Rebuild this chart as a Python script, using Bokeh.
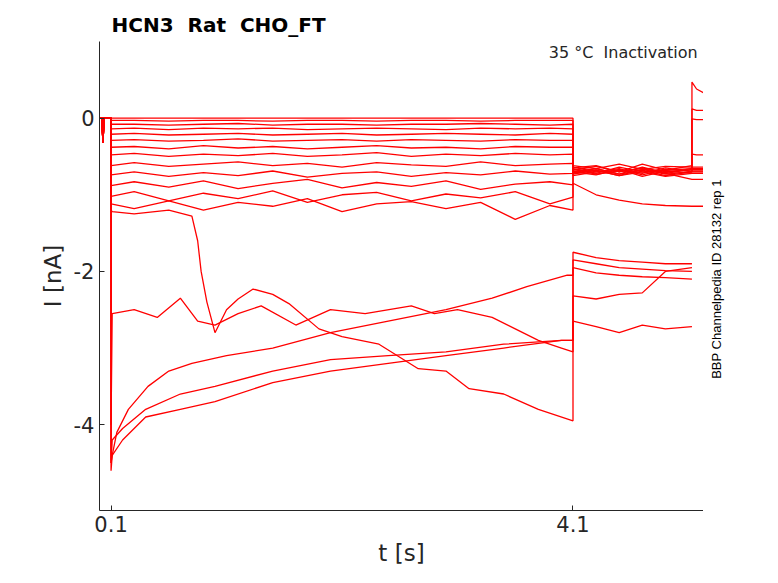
import numpy as np
from bokeh.plotting import figure
from bokeh.models import Label, Range1d
from bokeh.layouts import row
from bokeh.embed import file_html
from bokeh.resources import INLINE

# shared time knots (s)
t_pre = [0.0, 0.02, 0.03, 0.04, 0.1]
t_pulse = [0.1, 0.3, 0.6, 0.9, 1.2, 1.5, 1.8, 2.1, 2.4, 2.7, 3.0, 3.3, 3.6, 3.9, 4.1]
t_post = [4.1, 4.3, 4.5, 4.7, 4.9, 5.13]
t_end = [5.13, 5.17, 5.23]

# small traces: pulse level, post-pulse, end
small_pulse = [
    [0, 0, 0, 0, 0, 0, 0, 0, 0, 0, 0, 0, 0, 0, 0],
    [-0.03, -0.03, -0.04, -0.03, -0.03, -0.04, -0.03, -0.03, -0.04, -0.03, -0.03, -0.04, -0.03, -0.03, -0.03],
    [-0.08, -0.08, -0.09, -0.08, -0.07, -0.09, -0.08, -0.08, -0.09, -0.08, -0.08, -0.07, -0.08, -0.09, -0.08],
    [-0.14, -0.13, -0.15, -0.13, -0.14, -0.13, -0.15, -0.14, -0.13, -0.14, -0.15, -0.13, -0.14, -0.13, -0.14],
    [-0.21, -0.20, -0.22, -0.21, -0.20, -0.22, -0.21, -0.20, -0.22, -0.21, -0.20, -0.21, -0.22, -0.20, -0.21],
    [-0.29, -0.28, -0.30, -0.29, -0.27, -0.30, -0.29, -0.28, -0.30, -0.28, -0.29, -0.30, -0.28, -0.29, -0.29],
    [-0.38, -0.37, -0.40, -0.36, -0.39, -0.37, -0.40, -0.38, -0.36, -0.39, -0.38, -0.40, -0.37, -0.38, -0.38],
    [-0.48, -0.46, -0.50, -0.47, -0.49, -0.46, -0.50, -0.48, -0.45, -0.50, -0.47, -0.49, -0.46, -0.48, -0.47],
    [-0.62, -0.58, -0.63, -0.60, -0.57, -0.62, -0.59, -0.64, -0.58, -0.61, -0.63, -0.57, -0.62, -0.60, -0.59],
    [-0.74, -0.70, -0.76, -0.71, -0.75, -0.69, -0.77, -0.72, -0.70, -0.76, -0.71, -0.74, -0.69, -0.73, -0.72],
    [-0.88, -0.83, -0.90, -0.82, -0.92, -0.85, -0.80, -0.91, -0.84, -0.89, -0.82, -0.93, -0.86, -0.83, -0.87],
    [-1.02, -0.96, -1.08, -0.98, -1.05, -0.95, -1.10, -1.00, -0.97, -1.08, -0.99, -1.04, -0.96, -1.12, -1.03],
    [-1.12, -1.18, -1.08, -1.20, -1.10, -1.15, -1.05, -1.22, -1.12, -1.09, -1.18, -1.10, -1.32, -1.14, -1.20],
]
small_post = [
    [-0.65, -0.62, -0.70, -0.60, -0.68, -0.62],
    [-0.70, -0.66, -0.73, -0.64, -0.71, -0.66],
    [-0.72, -0.68, -0.75, -0.67, -0.73, -0.70],
    [-0.75, -0.70, -0.68, -0.72, -0.65, -0.70],
    [-0.62, -0.66, -0.60, -0.67, -0.63, -0.64],
    [-0.66, -0.72, -0.64, -0.70, -0.68, -0.66],
    [-0.70, -0.74, -0.67, -0.76, -0.69, -0.72],
    [-0.68, -0.63, -0.70, -0.65, -0.72, -0.67],
    [-0.64, -0.70, -0.66, -0.74, -0.67, -0.69],
    [-0.71, -0.66, -0.73, -0.68, -0.75, -0.70],
    [-0.67, -0.73, -0.69, -0.66, -0.72, -0.80],
    [-0.85, -1.00, -1.07, -1.12, -1.14, -1.15],
    [-0.73, -0.68, -0.75, -0.70, -0.76, -0.72],
]
small_end = [
    [0.47, 0.38, 0.33],
    [0.12, 0.10, 0.10],
    [-0.01, -0.02, -0.02],
    [-0.47, -0.48, -0.48],
    [-0.64, -0.64, -0.64],
    [-0.66, -0.66, -0.66],
    [-0.72, -0.72, -0.72],
    [-0.67, -0.67, -0.67],
    [-0.69, -0.69, -0.69],
    [-0.70, -0.70, -0.70],
    [-0.80, -0.80, -0.80],
    [-1.15, -1.15, -1.15],
    [-0.72, -0.72, -0.72],
]

# large traces: (t, I) pairs during pulse, then post
big_t = [
    [0.1, 0.11, 0.3, 0.6, 0.8, 0.85, 0.88, 0.93, 1.0, 1.1, 1.2, 1.33, 1.5, 1.64, 1.9, 2.1, 2.42, 2.76, 3.0, 3.2, 3.5, 3.8, 4.1],
    [0.1, 0.11, 0.3, 0.5, 0.7, 0.85, 1.0, 1.2, 1.4, 1.7, 2.0, 2.3, 2.7, 2.9, 3.1, 3.4, 3.6, 3.8, 4.0, 4.1],
    [0.1, 0.11, 0.15, 0.25, 0.42, 0.6, 0.8, 1.1, 1.5, 2.0, 2.5, 3.0, 3.4, 3.7, 4.05, 4.1],
    [0.1, 0.11, 0.2, 0.4, 0.7, 1.0, 1.5, 2.0, 2.5, 3.0, 3.5, 4.0, 4.1],
    [0.1, 0.11, 0.2, 0.4, 0.7, 1.0, 1.5, 2.0, 2.5, 3.0, 3.5, 4.0, 4.1],
]
big_i = [
    [-1.2, -1.22, -1.25, -1.2, -1.28, -1.6, -2.0, -2.4, -2.8, -2.5, -2.36, -2.23, -2.3, -2.42, -2.75, -2.85, -2.95, -3.27, -3.3, -3.53, -3.6, -3.8, -3.95],
    [-4.0, -2.55, -2.5, -2.6, -2.35, -2.65, -2.7, -2.55, -2.45, -2.7, -2.5, -2.55, -2.45, -2.55, -2.5, -2.6, -2.75, -2.9, -3.0, -3.05],
    [-4.6, -4.4, -4.1, -3.8, -3.5, -3.3, -3.2, -3.1, -3.0, -2.8, -2.65, -2.5, -2.35, -2.2, -2.05, -2.05],
    [-4.5, -4.2, -4.05, -3.8, -3.6, -3.5, -3.3, -3.15, -3.1, -3.05, -2.95, -2.9, -2.9],
    [-4.5, -4.4, -4.2, -3.9, -3.8, -3.7, -3.45, -3.3, -3.2, -3.1, -3.0, -2.9, -2.9],
]
big_post = [
    [-2.65, -2.72, -2.80, -2.70, -2.75, -2.72],
    [-2.32, -2.36, -2.30, -2.28, -2.00, -1.95],
    [-1.75, -1.82, -1.86, -1.88, -1.90, -1.90],
    [-1.85, -1.90, -1.95, -1.97, -1.99, -2.00],
    [-1.95, -2.02, -2.05, -2.07, -2.08, -2.10],
]

yr = Range1d(-5.12, 1.0)
p = figure(frame_width=604, frame_height=469, output_backend="svg", toolbar_location=None,
           min_border_left=99, min_border_top=41, min_border_right=0, min_border_bottom=58,
           x_range=Range1d(0.0, 5.23), y_range=yr)
p.outline_line_color = None
p.grid.visible = False
p.xaxis.ticker = [0.1, 4.1]
p.yaxis.ticker = [0, -2, -4]
p.xaxis.major_label_overrides = {0.1: "0.1", 4.1: "4.1"}
p.yaxis.major_label_overrides = {0: "0", -2: "-2", -4: "-4"}
for ax in (p.xaxis, p.yaxis):
    ax.major_label_text_font_size = "21px"
    ax.major_label_text_color = "#262626"
    ax.axis_label_text_font_size = "23px"
    ax.axis_label_text_font_style = "normal"
    ax.axis_label_text_color = "#262626"
    ax.minor_tick_line_color = None
    ax.major_tick_in = 5
    ax.major_tick_out = 0
    ax.axis_line_color = "#262626"
    ax.major_tick_line_color = "#262626"
    ax.major_label_text_font = "DejaVu Sans"
    ax.axis_label_text_font = "DejaVu Sans"
p.xaxis.axis_label = "t [s]"
p.yaxis.axis_label = "I [nA]"

p.title.text = "HCN3\u00a0\u00a0Rat\u00a0\u00a0CHO_FT"
p.title.text_font = "DejaVu Sans"
p.title.text_font_size = "20px"
p.title.text_font_style = "bold"
p.title.text_color = "#000000"
p.title.offset = 12

p.add_layout(Label(x=5.18, y=0.98, text="35\u00a0°C\u00a0\u00a0Inactivation", text_align="right",
                   text_baseline="top",
                   text_font="DejaVu Sans", text_font_size="16px", text_color="#262626"))

red = "#ff0000"
pre_i = [0.0, 0.0, -0.32, 0.0, 0.0]
for k in range(len(small_pulse)):
    t = t_pre + t_pulse + t_post + t_end
    y = pre_i + small_pulse[k] + small_post[k] + small_end[k]
    p.line(t, y, line_color=red, line_width=1.3)
for k in range(len(big_t)):
    t = [0.0, 0.1] + big_t[k] + t_post
    y = [0.0, 0.0] + big_i[k] + big_post[k]
    p.line(t, y, line_color=red, line_width=1.3)

# side strip for the vertical id text
side = figure(frame_width=50, frame_height=469, output_backend="svg", toolbar_location=None,
              min_border_left=0, min_border_top=41, min_border_right=0, min_border_bottom=58,
              x_range=Range1d(0, 50), y_range=yr)
side.axis.visible = False
side.grid.visible = False
side.outline_line_color = None
side.text(x=[13], y=[-2.1], text=["BBP Channelpedia ID 28132 rep 1"], angle=np.pi / 2,
          text_align="center", text_baseline="middle", text_font_size="13px",
          text_color="#000000")

open("out.html", "w").write(file_html(row(p, side), INLINE))
